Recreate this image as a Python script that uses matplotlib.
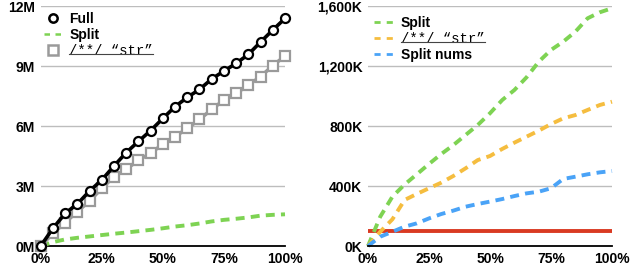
import numpy as np
import matplotlib
matplotlib.use("Agg")
import matplotlib.pyplot as plt
from matplotlib.ticker import FuncFormatter
from matplotlib.lines import Line2D

# x positions: fraction of input processed (5% steps)
pct = [0, 5, 10, 15, 20, 25, 30, 35, 40, 45, 50,
       55, 60, 65, 70, 75, 80, 85, 90, 95, 100]

# left chart, millions
full_m = [0, 0.88, 1.63, 2.1, 2.75, 3.3, 4.0, 4.67, 5.23, 5.77, 6.38,
          6.97, 7.43, 7.83, 8.35, 8.75, 9.13, 9.58, 10.2, 10.8, 11.38]
str_m = [0, 0.63, 1.17, 1.72, 2.25, 2.88, 3.47, 3.83, 4.3, 4.63, 5.1,
         5.47, 5.88, 6.33, 6.83, 7.3, 7.63, 8.05, 8.47, 9.02, 9.5]

# right chart, thousands
split_k = [0, 195, 329, 410, 478, 547, 613, 673, 740, 807, 885,
           973, 1040, 1125, 1229, 1307, 1362, 1429, 1518, 1558, 1585]
str_k = [0, 95, 178, 307, 347, 385, 422, 467, 518, 573, 600,
         647, 689, 729, 769, 813, 851, 873, 907, 940, 962]
nums_k = [0, 62, 95, 129, 151, 184, 213, 236, 262, 280, 296,
          313, 333, 351, 362, 385, 447, 462, 478, 491, 500]
limit_k = 100

left_yticks = [0, 3, 6, 9, 12]
right_yticks = [0, 400, 800, 1200, 1600]
xticks = [0, 25, 50, 75, 100]

GREEN = "#7ed353"
ORANGE = "#f5bd3f"
BLUE = "#4aa3f7"
RED = "#d93a22"
GREY = "#9a9a9a"
STR_LABEL = "/**/ \u201cstr\u201d"
DASH = (2.3, 1.6)

plt.rcParams["font.family"] = ["Liberation Sans", "DejaVu Sans"]
plt.rcParams["font.weight"] = "bold"
plt.rcParams["font.size"] = 10

fig = plt.figure(figsize=(6.3, 2.68), dpi=100)
W, H = 630.0, 268.0
axL = fig.add_axes([40.7/W, 22/H, (285-40.7)/W, 240/H])
axR = fig.add_axes([368/W, 22/H, 244/W, 240/H])

x = np.array(pct) / 100.0

# left: totals
axL.plot(x, np.array(split_k)/1000.0, color=GREEN, lw=2.8, dashes=DASH,
         zorder=3, clip_on=False)
axL.plot(x, str_m, color=GREY, lw=2.6, marker="s", ms=6.5, mfc="white",
         mec=GREY, mew=1.6, zorder=3, clip_on=False)
axL.plot(x, full_m, color="black", lw=2.6, marker="o", ms=6.5, mfc="white",
         mec="black", mew=1.6, zorder=4, clip_on=False)
axL.set_ylim(0, 12)
axL.set_yticks(left_yticks)
axL.yaxis.set_major_formatter(FuncFormatter(lambda v, p: f"{v:.0f}M"))

# right: split variants
axR.plot(x, split_k, color=GREEN, lw=2.8, dashes=DASH, clip_on=False)
axR.plot(x, str_k, color=ORANGE, lw=2.8, dashes=DASH, clip_on=False)
axR.plot(x, nums_k, color=BLUE, lw=2.8, dashes=DASH, clip_on=False)
axR.axhline(limit_k, color=RED, lw=2.8, zorder=1)
axR.set_ylim(0, 1600)
axR.set_yticks(right_yticks)
axR.yaxis.set_major_formatter(FuncFormatter(lambda v, p: f"{v:,.0f}K"))

for ax in (axL, axR):
    ax.set_xlim(0, 1)
    ax.set_xticks(np.array(xticks)/100.0)
    ax.set_xticklabels([f"{t}%" for t in xticks])
    for s in ("top", "right", "left"):
        ax.spines[s].set_visible(False)
    ax.spines["bottom"].set_color("black")
    ax.spines["bottom"].set_linewidth(1.3)
    ax.tick_params(length=0, labelsize=10, pad=4)
    ax.yaxis.grid(True, color="#bdbdbd", lw=1)
    ax.set_axisbelow(True)
    ax.patch.set_alpha(0)

# legends: marker-only / short thin dash handles
hL = [Line2D([], [], ls="none", marker="o", ms=6, mfc="white", mec="black", mew=1.8),
      Line2D([], [], color=GREEN, lw=1.8, dashes=(2.2, 2.2)),
      Line2D([], [], ls="none", marker="s", ms=6.5, mfc="white", mec=GREY, mew=1.8)]
legL = axL.legend(hL, ["Full", "Split", STR_LABEL], loc="upper left",
                  bbox_to_anchor=(-0.02, 1.01), frameon=False,
                  handlelength=1.3, handletextpad=0.5, labelspacing=0.15,
                  borderaxespad=0.2, fontsize=10)
hR = [Line2D([], [], color=c, lw=2, dashes=(2.2, 2.2)) for c in (GREEN, ORANGE, BLUE)]
legR = axR.legend(hR, ["Split", STR_LABEL, "Split nums"], loc="upper left",
                  bbox_to_anchor=(-0.01, 0.995), frameon=False,
                  handlelength=1.6, handletextpad=0.35, labelspacing=0.15,
                  borderaxespad=0.2, fontsize=10)

# the code-ish label is monospace and underlined
for leg in (legL, legR):
    for t in leg.get_texts():
        if t.get_text() == STR_LABEL:
            t.set_family(["Liberation Mono", "DejaVu Sans Mono"])
            t.set_fontweight("normal")
fig.canvas.draw()
r = fig.canvas.get_renderer()
for leg in (legL, legR):
    for t in leg.get_texts():
        if t.get_text() == STR_LABEL:
            bb = t.get_window_extent(r)
            yl = bb.y0 + 0.28 * bb.height
            fig.add_artist(Line2D([bb.x0/W, bb.x1/W], [yl/H, yl/H],
                                  transform=fig.transFigure, color="#444444", lw=0.8))

fig.savefig("out.png", dpi=100)
